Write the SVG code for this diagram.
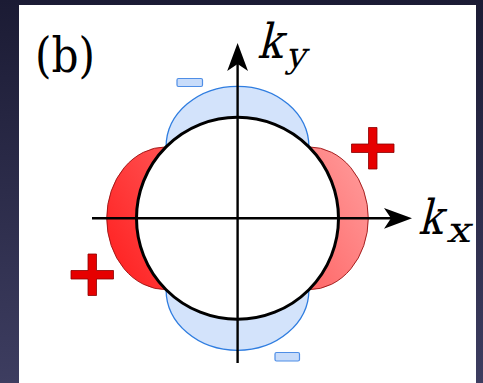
<svg xmlns="http://www.w3.org/2000/svg" width="483" height="383" viewBox="0 0 483 383">
  <defs>
    <linearGradient id="bg" x1="0" y1="0" x2="0" y2="1">
      <stop offset="0" stop-color="#1b1b34"/>
      <stop offset="1" stop-color="#3d3d60"/>
    </linearGradient>
    <linearGradient id="red" gradientUnits="userSpaceOnUse" x1="370" y1="140" x2="105" y2="295">
      <stop offset="0" stop-color="#ffa0a0"/>
      <stop offset="1" stop-color="#ff1a1a"/>
    </linearGradient>
    <style>
      .blue { fill: #d3e3fb; stroke: #2f7de0; stroke-width: 1.3; }
      .red { fill: url(#red); stroke: #9a1010; stroke-width: 0.9; }
      .fs { fill: #ffffff; stroke: #000000; stroke-width: 3; }
      .axis { stroke: #000000; stroke-width: 2.4; fill: none; }
      .head { fill: #000000; }
      .plus { fill: #e60000; stroke: #8a0000; stroke-width: 0.8; }
      .minus { fill: #c8dcfa; stroke: #4f8ee6; stroke-width: 1.2; }
    </style>
  </defs>

  <rect x="0" y="0" width="483" height="383" fill="url(#bg)"/>
  <rect x="19" y="5" width="457" height="378" fill="#ffffff"/>

  <g id="lobes">
    <ellipse id="lobe-top" class="blue" cx="237.5" cy="146.9" rx="71.4" ry="60.6"/>
    <ellipse id="lobe-bottom" class="blue" cx="237.5" cy="289.7" rx="71.4" ry="60.6"/>
    <ellipse id="lobe-right" class="red" cx="308.9" cy="218.3" rx="59.4" ry="71.4"/>
    <ellipse id="lobe-left" class="red" cx="166.1" cy="218.3" rx="59.4" ry="71.4"/>
  </g>

  <g id="fermi-surface">
    <circle class="fs" cx="237.5" cy="218.3" r="101"/>
  </g>

  <g id="connectors">
    <line class="axis" x1="237.6" y1="363" x2="237.6" y2="62"/>
    <path class="head" d="M237.6,43 L248,71 L237.6,64 L227.2,71 Z"/>
    <line class="axis" x1="92" y1="218.3" x2="393" y2="218.3"/>
    <path class="head" d="M412,218.3 L384,228.7 L391,218.3 L384,207.9 Z"/>
  </g>

  <g id="signs">
    <path id="plus-tr" class="plus" d="M368.5,127.5 h8.5 v16.5 h17 v8.5 h-17 v16.5 h-8.5 v-16.5 h-17 v-8.5 h17 Z"/>
    <path id="plus-bl" class="plus" d="M88,254 h8.5 v16.5 h17 v8.5 h-17 v16.5 h-8.5 v-16.5 h-17 v-8.5 h17 Z"/>
    <rect id="minus-top" class="minus" x="177" y="78.5" width="25.5" height="8" rx="1.5"/>
    <rect id="minus-bottom" class="minus" x="275" y="352.5" width="24.5" height="8.5" rx="1.5"/>
  </g>

  <g id="labels" fill="#000000" font-family="DejaVu Serif">
    <text x="35" y="72" font-size="48" textLength="60" lengthAdjust="spacingAndGlyphs">(b)</text>
    <g id="label-ky">
      <text transform="translate(257,58.3) skewX(-14)" font-size="48" textLength="25" lengthAdjust="spacingAndGlyphs">k</text>
      <text transform="translate(285.5,66.5) skewX(-14)" font-size="35" textLength="20" lengthAdjust="spacingAndGlyphs">y</text>
    </g>
    <g id="label-kx">
      <text transform="translate(418,234) skewX(-14)" font-size="48" textLength="24" lengthAdjust="spacingAndGlyphs">k</text>
      <text transform="translate(446,241.7) skewX(-14)" font-size="35" textLength="24" lengthAdjust="spacingAndGlyphs">x</text>
    </g>
  </g>
</svg>
